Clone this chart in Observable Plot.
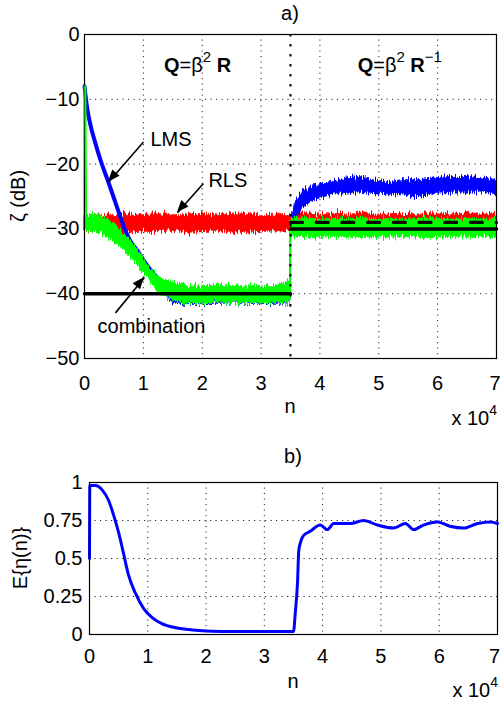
<!DOCTYPE html>
<html><head><meta charset="utf-8">
<script src="https://cdn.jsdelivr.net/npm/d3@7"></script>
<script src="https://cdn.jsdelivr.net/npm/@observablehq/plot@0.6"></script>
<style>
html,body{margin:0;padding:0;background:#fff;}
#chart svg{display:block;}
</style></head><body><div id="chart"></div>
<script>
// ---------- shared axis data ----------
const xTicks = [0, 10000, 20000, 30000, 40000, 50000, 60000, 70000];
const xGrid = [10000, 20000, 30000, 40000, 50000, 60000];
const yTicksA = [0, -10, -20, -30, -40, -50];
const yGridA = [-10, -20, -30, -40];
const yTicksB = [0, 0.25, 0.5, 0.75, 1];
const yGridB = [0.25, 0.5, 0.75];
const switchN = [35000];

// ---------- panel a: RLS (red band) ----------
const rlsN  = [0, 2500, 5000, 7500, 10000, 12500, 15000, 17500, 20000, 22500, 25000, 27500, 30000, 32500, 35000,
               35000, 37500, 40000, 42500, 45000, 47500, 50000, 52500, 55000, 57500, 60000, 62500, 65000, 67500, 70000];
const rlsHi = [-27.9, -27.8, -28.0, -27.8, -27.9, -27.7, -27.9, -27.8, -27.7, -27.9, -27.8, -27.7, -27.9, -27.8, -27.9,
               -27.7, -27.6, -27.8, -27.7, -27.8, -27.6, -27.8, -27.7, -27.7, -27.8, -27.6, -27.8, -27.7, -27.6, -27.8];
const rlsLo = [-30.4, -30.5, -30.3, -30.6, -30.4, -30.5, -30.3, -30.6, -30.5, -30.4, -30.6, -30.4, -30.5, -30.3, -30.5,
               -29.4, -29.5, -29.3, -29.4, -29.5, -29.3, -29.4, -29.5, -29.3, -29.4, -29.5, -29.4, -29.3, -29.5, -29.4];

// ---------- panel a: LMS (blue) ----------
const lmsCurveN  = [0, 170, 510, 1020, 1700, 2720, 4070, 5430, 6620, 7810, 9170, 10360, 11200, 12900, 14900];
const lmsCurveDb = [-8.0, -9.4, -11.7, -14.0, -16.3, -19.4, -22.8, -26.4, -29.5, -31.9, -33.6, -35.3, -36.3, -38.0, -39.3];
const lmsBandN  = [12900, 15000, 20000, 25000, 30000, 35000, 35060, 35500, 35820, 37180, 38880, 41770, 44650, 46860,
                   49070, 51440, 53990, 56710, 59590, 62480, 65200, 67570, 70000];
const lmsBandHi = [-38.5, -39.3, -39.4, -39.3, -39.4, -39.3, -29.5, -27.5, -26.1, -24.1, -23.3, -22.8, -22.2, -22.0,
                   -22.5, -22.8, -22.5, -22.5, -22.2, -22.0, -22.0, -22.2, -22.5];
const lmsBandLo = [-39.5, -41.5, -41.6, -41.5, -41.6, -41.5, -30.5, -29.5, -28.7, -26.7, -25.6, -24.8, -24.4, -24.4,
                   -24.6, -24.8, -24.8, -25.1, -24.6, -24.4, -24.4, -24.4, -24.6];

// ---------- panel a: combination (green band) ----------
const combN  = [0, 150, 1000, 2700, 4900, 7300, 9500, 11200, 12900, 15100, 17500, 20000, 22500, 25000, 27500, 30000,
                32500, 34800, 35000, 35060, 37500, 40000, 42500, 45000, 47500, 50000, 52500, 55000, 57500, 60000,
                62500, 65000, 67500, 70000];
const combHi = [-8.0, -28.0, -27.9, -27.9, -29.2, -31.3, -33.8, -36.5, -37.7, -38.3, -38.8, -38.9, -38.7, -38.8, -38.9, -38.8,
                -38.9, -38.0, -38.6, -28.5, -28.4, -28.6, -28.5, -28.6, -28.4, -28.6, -28.5, -28.6, -28.5, -28.4,
                -28.6, -28.5, -28.6, -28.5];
const combLo = [-28.5, -30.3, -30.4, -30.5, -31.8, -33.7, -36.0, -38.0, -39.9, -41.1, -41.4, -41.5, -41.3, -41.5, -41.4, -41.5,
                -41.3, -41.4, -41.4, -31.3, -31.2, -31.4, -31.2, -31.3, -31.2, -31.4, -31.3, -31.2, -31.4, -31.3,
                -31.2, -31.3, -31.2, -31.3];
// the initial spike and the jump at the switch, as seen on the green trace
const combSpikeN = [0, 0, 150];
const combSpikeDb = [-8.0, -8.0, -28.5];
const combJumpN = [35000, 35000];
const combJumpDb = [-40.5, -29.0];

// ---------- panel a: theoretical (black) ----------
const solid1N = [0, 35000],     solid1Db = [-40, -40];
const solid2N = [35000, 70000], solid2Db = [-30, -30];
const dashN   = [35000, 70000], dashDb   = [-29, -29];

// ---------- panel a: annotations ----------
const labStartText = ["LMS", "RLS"], labStartN = [11200, 21050], labStartDb = [-16.2, -22.5];
const labMidText = ["combination"], labMidN = [11380], labMidDb = [-45.1];
const arrTailN = [10017, 20200, 5260],  arrTailDb = [-16.6, -23.0, -42.96];
const arrHeadN = [4075, 15790, 10190],  arrHeadDb = [-22.8, -27.5, -37.5];
const formulaN = [19300, 53650], formulaDb = [-5.8, -5.8];

// ---------- panel b: E{eta(n)} ----------
const etaN = [0, 60, 1000, 2200, 3300, 4100, 5000, 5800, 6700, 7900, 9300, 10800, 12500, 14800, 17700, 21000, 25000, 30000,
              35000, 35300, 35700, 35900, 36200, 36700, 37900, 39600, 40800, 41900, 44800, 47000, 49400, 52200, 54200,
              55600, 57300, 59700, 62000, 64200, 66600, 68800, 70000];
const etaVal = [0.5, 0.98, 0.98, 0.95, 0.88, 0.79, 0.67, 0.54, 0.39, 0.27, 0.17, 0.11, 0.07, 0.045, 0.03, 0.022, 0.02, 0.02,
                0.02, 0.14, 0.35, 0.55, 0.605, 0.65, 0.68, 0.72, 0.69, 0.73, 0.73, 0.75, 0.72, 0.70, 0.73,
                0.69, 0.72, 0.74, 0.71, 0.70, 0.73, 0.74, 0.73];

// ---------- build tables ----------
const band = (N, lo, hi) => N.map((n, i) => ({n, lo: lo[i], hi: hi[i]}));
const pts = (N, V) => N.map((n, i) => ({n, v: V[i]}));
const rlsData = band(rlsN, rlsLo, rlsHi);
const lmsBand = band(lmsBandN, lmsBandLo, lmsBandHi);
const combData = band(combN, combLo, combHi);
const lmsCurve = pts(lmsCurveN, lmsCurveDb);
const etaData = pts(etaN, etaVal);

const FONT = '"Liberation Sans", Arial, Helvetica, sans-serif';
const minusFmt = d => d < 0 ? "\u2212" + Math.abs(d) : String(d);
const gridStyle = {stroke: "#000", strokeOpacity: 0.85, strokeWidth: 1, strokeDasharray: "1.2,4.3"};

const plotA = Plot.plot({
  width: 501, height: 440,
  marginTop: 34, marginRight: 5, marginBottom: 82, marginLeft: 84,
  style: {fontSize: "20px", fontFamily: FONT, background: "white", color: "black", overflow: "visible"},
  x: {domain: [0, 70000], label: null},
  y: {domain: [-50, 0], label: null},
  marks: [
    Plot.gridX(xGrid, gridStyle),
    Plot.gridY(yGridA, gridStyle),
    Plot.areaY(rlsData, {x: "n", y1: "lo", y2: "hi", fill: "#ff0000", stroke: "#ff0000", strokeWidth: 0.8}),
    Plot.line(lmsCurve, {x: "n", y: "v", stroke: "#0000ff", strokeWidth: 4, curve: "monotone-x"}),
    Plot.areaY(lmsBand, {x: "n", y1: "lo", y2: "hi", fill: "#0000ff", stroke: "#0000ff", strokeWidth: 1}),
    Plot.areaY(combData, {x: "n", y1: "lo", y2: "hi", fill: "#00ff00", stroke: "#00ff00", strokeWidth: 1.2}),
    Plot.line(pts(combJumpN, combJumpDb), {x: "n", y: "v", stroke: "#00ff00", strokeWidth: 1.5}),
    Plot.line(pts(solid1N, solid1Db), {x: "n", y: "v", stroke: "#000", strokeWidth: 3.5}),
    Plot.line(pts(solid2N, solid2Db), {x: "n", y: "v", stroke: "#000", strokeWidth: 3.5}),
    Plot.line(pts(dashN, dashDb), {x: "n", y: "v", stroke: "#000", strokeWidth: 3.2, strokeDasharray: "12,13.7"}),
    Plot.ruleX(switchN, {stroke: "#000", strokeWidth: 2, strokeDasharray: "2.5,7.5"}),
    Plot.link(arrTailN.map((n, i) => ({x1: n, y1: arrTailDb[i], x2: arrHeadN[i], y2: arrHeadDb[i]})),
      {x1: "x1", y1: "y1", x2: "x2", y2: "y2", stroke: "#000", strokeWidth: 1.6}),
    Plot.text(pts(labStartN, labStartDb).map((d, i) => ({...d, t: labStartText[i]})),
      {x: "n", y: "v", text: "t", textAnchor: "start", fill: "#000"}),
    Plot.text(pts(labMidN, labMidDb).map((d, i) => ({...d, t: labMidText[i]})),
      {x: "n", y: "v", text: "t", textAnchor: "middle", fill: "#000"}),
    Plot.frame({stroke: "#000", strokeWidth: 1.2}),
    Plot.line(pts(combSpikeN, combSpikeDb), {x: "n", y: "v", stroke: "#00ff00", strokeWidth: 2, dx: 0.8}),
    Plot.axisX(xTicks, {tickSize: 0, tickPadding: 17, tickFormat: d => d / 1e4, label: null}),
    Plot.axisY(yTicksA, {tickSize: 0, tickPadding: 5, tickFormat: minusFmt, label: null})
  ]
});

const plotB = Plot.plot({
  width: 501, height: 261,
  marginTop: 42, marginRight: 4, marginBottom: 67, marginLeft: 89,
  style: {fontSize: "20px", fontFamily: FONT, background: "white", color: "black", overflow: "visible"},
  x: {domain: [0, 70000], label: null},
  y: {domain: [0, 1], label: null},
  marks: [
    Plot.gridX(xGrid, gridStyle),
    Plot.gridY(yGridB, gridStyle),
    Plot.line(etaData, {x: "n", y: "v", stroke: "#0000ff", strokeWidth: 3, curve: "monotone-x"}),
    Plot.frame({stroke: "#000", strokeWidth: 1.2}),
    Plot.axisX(xTicks, {tickSize: 0, tickPadding: 14, tickFormat: d => d / 1e4, label: null}),
    Plot.axisY(yTicksB, {tickSize: 0, tickPadding: 7, tickFormat: d => String(d), label: null})
  ]
});

const host = document.getElementById("chart");
host.append(plotA, plotB);

// ---------- decorations using the plots' own scales ----------
function richText(svg, x, y, parts, anchor) {
  const t = svg.append("text").attr("x", x).attr("y", y).attr("text-anchor", anchor || "middle")
    .attr("font-size", 20).attr("font-family", FONT).attr("fill", "#000");
  parts.forEach(p => {
    const s = t.append("tspan").text(p.t);
    if (p.b) s.attr("font-weight", "bold");
    if (p.s) s.attr("font-size", p.s);
    if (p.dy) s.attr("dy", p.dy);
  });
  return t;
}

function decorate(plot, opts) {
  const svg = d3.select(plot);
  const sx = plot.scale("x"), sy = plot.scale("y");
  const [r0, r1] = sx.range, [b0, b1] = sy.range;
  const cx = (r0 + r1) / 2, cy = (b0 + b1) / 2;
  richText(svg, cx, opts.titleY, [{t: opts.title}]);
  richText(svg, cx, opts.nY, [{t: "n"}]);
  richText(svg, r1 + 1, opts.expY, [{t: "x 10"}, {t: "4", s: 14, dy: -10}], "end");
  const lab = richText(svg, 0, 0, opts.ylab);
  lab.attr("transform", `translate(${opts.ylabX},${cy}) rotate(-90)`);
  // keep the last x tick label inside the picture
  const xl = svg.selectAll('g[aria-label="x-axis tick label"] text').nodes();
  if (xl.length) d3.select(xl[xl.length - 1]).attr("dx", opts.lastDx);
  return {svg, sx, sy};
}

const A = decorate(plotA, {title: "a)", titleY: 20, nY: 413, expY: 425, ylab: [{t: "\u03B6 (dB)"}], ylabX: 24.5, lastDx: -1.5});
const B = decorate(plotB, {title: "b)", titleY: 23, nY: 248, expY: 257, ylab: [{t: "E{\u03B7(n)}"}], ylabX: 27, lastDx: -3});

// formulas
richText(A.svg, A.sx.apply(formulaN[0]), A.sy.apply(formulaDb[0]),
  [{t: "Q", b: 1}, {t: "=\u03B2"}, {t: "2", s: 15, dy: -10}, {t: " ", dy: 10}, {t: "R", b: 1}]);
richText(A.svg, A.sx.apply(formulaN[1]), A.sy.apply(formulaDb[1]),
  [{t: "Q", b: 1}, {t: "=\u03B2"}, {t: "2", s: 15, dy: -10}, {t: " ", dy: 10}, {t: "R", b: 1}, {t: "\u22121", s: 15, dy: -10}]);

// filled arrow heads
arrHeadN.forEach((n, i) => {
  const x2 = A.sx.apply(n), y2 = A.sy.apply(arrHeadDb[i]);
  const x1 = A.sx.apply(arrTailN[i]), y1 = A.sy.apply(arrTailDb[i]);
  const ang = Math.atan2(y2 - y1, x2 - x1), L = 12, W = 4.8;
  const bx = x2 - L * Math.cos(ang), by = y2 - L * Math.sin(ang);
  const px = -Math.sin(ang) * W, py = Math.cos(ang) * W;
  A.svg.append("path").attr("d", `M${x2},${y2}L${bx + px},${by + py}L${bx - px},${by - py}Z`).attr("fill", "#000");
});

// noisy texture on the band areas
const defs = A.svg.insert("defs", ":first-child");
const f = defs.append("filter").attr("id", "jagA").attr("filterUnits", "userSpaceOnUse")
  .attr("x", 0).attr("y", 0).attr("width", 501).attr("height", 440).attr("color-interpolation-filters", "sRGB");
f.append("feTurbulence").attr("type", "fractalNoise").attr("baseFrequency", "0.85 0.05").attr("numOctaves", 2).attr("seed", 4).attr("result", "t");
f.append("feColorMatrix").attr("in", "t").attr("type", "matrix")
  .attr("values", "1 0 0 0 0  0 0 0 0 0.5  0 0 1 0 0  0 0 0 0 1").attr("result", "m");
f.append("feDisplacementMap").attr("in", "SourceGraphic").attr("in2", "m").attr("scale", 12)
  .attr("xChannelSelector", "G").attr("yChannelSelector", "R");
A.svg.selectAll('g[aria-label="area"]').attr("filter", "url(#jagA)");
</script></body></html>
